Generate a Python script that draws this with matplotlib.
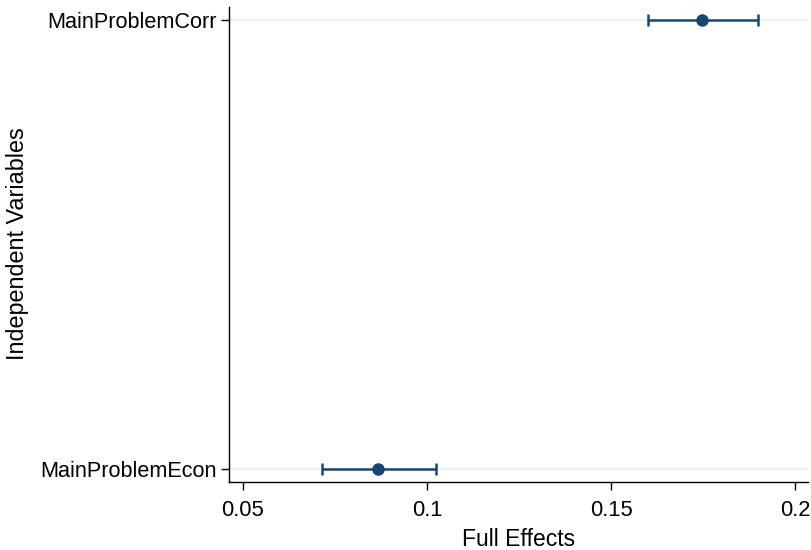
import matplotlib
matplotlib.use("Agg")
import matplotlib.pyplot as plt

plt.rcParams['font.family'] = ['Liberation Sans', 'DejaVu Sans']

categories = ["MainProblemEcon", "MainProblemCorr"]
estimates = [0.0867, 0.1746]
ci_low = [0.0716, 0.1600]
ci_high = [0.1024, 0.1900]
xticks = [0.05, 0.1, 0.15, 0.2]
xtick_labels = ["0.05", "0.1", "0.15", "0.2"]

color = "#1a476f"
fig = plt.figure(figsize=(8.11, 5.5), dpi=100)
ax = fig.add_axes([229/811, 1-482/550, (808-229)/811, (482-7)/550])

ypos = list(range(len(categories)))
for y in ypos:
    ax.axhline(y, color="#eaf2f3", lw=1.5, zorder=0)

err_lo = [e - l for e, l in zip(estimates, ci_low)]
err_hi = [h - e for e, h in zip(estimates, ci_high)]
ax.errorbar(estimates, ypos, xerr=[err_lo, err_hi], fmt='o', color=color,
            ms=8, elinewidth=1.8, capsize=4, capthick=1.8, zorder=3)

ax.set_yticks(ypos)
ax.set_yticklabels(categories, fontsize=15.6)
ax.set_xticks(xticks)
ax.set_xticklabels(xtick_labels, fontsize=15.8)
ax.set_xlim(0.0462, 0.2035)
ax.set_ylim(-0.029, 1.029)
ax.spines['top'].set_visible(False)
ax.spines['right'].set_visible(False)
ax.spines['left'].set_linewidth(1.0)
ax.spines['bottom'].set_linewidth(1.0)
ax.tick_params(axis='y', length=6, width=1.0, pad=2.5)
ax.tick_params(axis='x', length=6, width=1.0, pad=7)
ax.set_xlabel("Full Effects", fontsize=16.5, labelpad=5)
ax.set_ylabel("Independent Variables", fontsize=16.8, va='center')
ax.yaxis.set_label_coords(18/811, 1-244/550, transform=fig.transFigure)

fig.savefig("out.png", dpi=100)
